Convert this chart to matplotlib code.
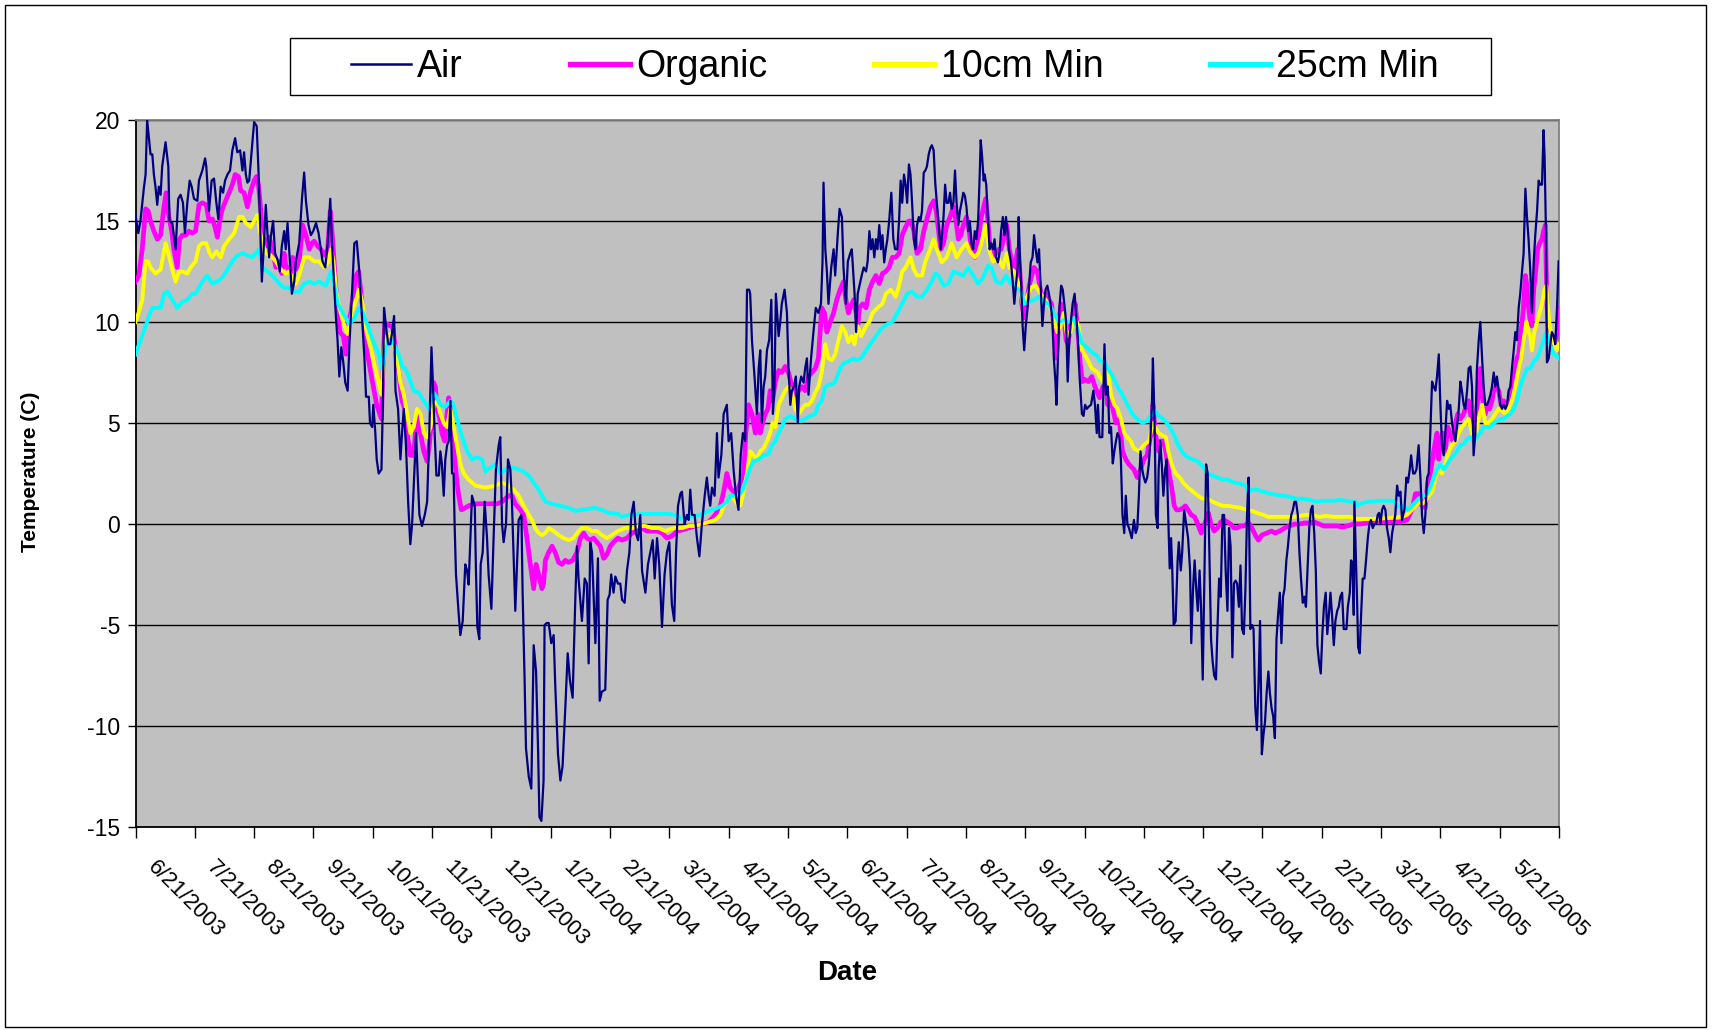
import matplotlib
matplotlib.use("Agg")
import matplotlib.pyplot as plt
from matplotlib.transforms import ScaledTranslation
from matplotlib.patches import Rectangle
from matplotlib.lines import Line2D

plt.rcParams['font.family'] = ['Liberation Sans', 'DejaVu Sans']
plt.rcParams['axes.unicode_minus'] = False

# ---------------- data (day index from 6/21/2003, temperature in C) ----------------
tick_labels = ["6/21/2003", "7/21/2003", "8/21/2003", "9/21/2003", "10/21/2003",
               "11/21/2003", "12/21/2003", "1/21/2004", "2/21/2004", "3/21/2004",
               "4/21/2004", "5/21/2004", "6/21/2004", "7/21/2004", "8/21/2004",
               "9/21/2004", "10/21/2004", "11/21/2004", "12/21/2004", "1/21/2005",
               "2/21/2005", "3/21/2005", "4/21/2005", "5/21/2005"]
series_names = ["Air", "Organic", "10cm Min", "25cm Min"]

air = [(0,15.3),(1.4,14.4),(2.5,15.0),(4.2,16.6),(5.1,17.3),(5.9,20.0),(6.8,19.1),(7.6,18.3),(8.5,18.3),
 (9.3,17.3),(10.1,16.7),(11,15.8),(11.8,16.7),(12.7,16.3),(13.5,17.7),(15.2,18.9),(16.6,17.7),(17.2,15.0),
 (18.6,14.9),(20.3,13.6),(21.6,16.1),(22.8,16.3),(24,15.9),(25,14.4),(26.2,15.9),(27.4,17.0),(28.4,16.7),
 (29.6,16.1),(31.3,16.0),(32.1,17.0),(33.8,17.5),(35.2,18.1),(35.8,17.7),(37.2,15.5),(38.5,17.0),(39.7,17.1),
 (40.9,15.9),(41.9,15.1),(43.1,16.7),(44.3,16.4),(45.3,17.0),(46.5,17.3),(47.8,17.5),(49,18.5),(50.4,19.1),
 (51.5,18.4),(52.9,18.5),(54.1,17.5),(54.9,18.4),(55.8,17.3),(56.6,16.9),(57.5,17.0),(58.8,18.5),(60,19.9),
 (61.3,19.7),(62.2,17.5),(62.9,15.2),(63.9,12.0),(65.1,14.1),(65.9,15.8),(66.8,14.3),(67.6,13.2),(68.4,14.2),
 (69.6,15.0),(70.6,13.4),(71.8,13.1),(73,12.5),(74,13.75),(75.2,14.5),(76,13.6),(76.9,14.9),(77.7,13.6),
 (79.1,11.4),(80.3,12.0),(81.1,13.0),(82.8,13.9),(84.2,16.1),(85.3,17.4),(86.2,16.0),(87.5,14.8),(88.7,14.3),
 (89.9,14.5),(91.3,14.9),(92.6,14.4),(93.3,13.9),(94.6,13.0),(96,12.7),(97.2,13.9),(98.5,16.1),(99.4,13.9),
 (100.6,11.6),(101.4,10.2),(102.2,9.1),(103.1,7.3),(104.1,8.75),(105.1,8.0),(106.1,7.0),(107.3,6.6),(108.2,8.9),
 (109.5,11.4),(110.7,13.9),(111.9,14.0),(113.2,12.5),(114.6,10.2),(115.8,8.2),(116.6,6.3),(118,6.3),(118.6,5.0),
 (119.7,4.8),(120.3,5.9),(121.3,4.5),(122,3.2),(123,2.5),
 (124.4,2.7),(125.1,5.9),(125.7,10.7),(126.7,9.8),(127.8,8.9),(128.9,8.9),(129.8,9.5),(130.8,10.3),(131.5,6.6),
 (132.8,5.7),(134,3.2),(134.8,4.5),(135.7,5.7),(136.8,3.9),(137.9,1.1),(139,-1.0),(139.9,0),(140.7,1.8),
 (141.9,4.5),(142.9,2.0),(143.6,0.45),(144.9,-0.1),(146.3,0.45),(147.5,1.1),(148.6,4.5),(149.7,8.75),(150.5,6.8),
 (151.3,4.5),(152.2,2.4),(153.4,2.4),(154.2,3.6),(155,2.95),(155.9,1.4),(156.7,3.2),(157.6,3.9),(158.4,4.1),
 (159.3,6.1),(160.1,2.5),(160.9,2.5),(161.4,0),(162.1,-2.5),(163.5,-4.5),(164.3,-5.5),(165.5,-4.8),(166.8,-2.0),
 (167.7,-2.3),(168.5,-3.0),(169.4,-0.7),(170.2,1.4),(171.6,0.9),(172.2,-2.3),(172.9,-5.1),(173.9,-5.7),(174.6,-2.0),
 (175.6,-1.4),(176.6,1.1),(177.8,-0.7),(178.6,-2.5),(180,-4.2),(181.2,-0.45),(182.3,2.7),(183.7,3.9),(184.5,4.3),
 (185.4,0),(186.2,-0.9),(187.4,0),(188.4,3.2),(189.6,2.7),(190.4,1.1),(192.1,-4.3),(193.8,0.2),(195.2,0.45),
 (195.8,-3.4),(196.8,-7.7),(197.5,-11.1),(198.9,-12.5),(200.2,-13.1),(201.4,-6.0),(202.6,-7.3),(203.6,-11.1),
 (204.3,-14.5),(205.3,-14.7),(206.4,-12.7),(206.9,-5.0),(208.1,-4.9),(209,-4.9),(210.3,-5.9),(211.5,-5.5),
 (212.3,-7.95),(213.7,-11.4),(214.9,-12.7),(216,-12.0),(217.4,-9.1),(218.6,-6.4),(219.7,-7.7),(221.1,-8.6),
 (222.4,-3.9),(223.3,-1.1),(224.1,-2.7),(225.8,-4.8),(227.2,-2.7),(228.3,-2.95),(229.2,-6.9),(230,-0.9),
 (230.9,-1.4),(232.6,-5.9),(233.9,-1.7),(234.8,-8.75),(235.9,-8.3),(237.6,-8.2),(238.8,-3.75),(239.8,-3.5),
 (240.6,-2.5),(241.8,-3.4),(242.7,-2.6),(244,-2.95),
 (245.2,-2.95),(246.1,-3.75),(247.4,-3.9),(248.6,-2.3),(249.8,-1.4),(250.8,0.45),(252,1.1),(253.1,-0.45),
 (254.2,-0.8),(255.3,0.45),(256.2,-2.3),(257.9,-3.4),(259.2,-2.0),(260.4,-1.4),(261.6,-0.8),(262.6,-2.7),
 (263.8,-0.7),(264.9,-2.0),(266.3,-5.1),(267.6,-2.5),(268.8,-1.4),(270,-0.9),(271.3,-4.0),(272.5,-4.8),
 (273.4,-1.4),(274.4,0.9),(275.6,1.5),(276.4,1.6),(277.7,0),(278.9,0.45),(279.8,0.2),(280.6,1.7),(281.5,0.45),
 (282.8,0.45),(284,-0.7),(285.2,-1.6),(286.5,0),(287.9,1.4),(289,2.3),(289.9,1.4),(290.7,0.9),(291.6,1.8),
 (292.9,1.4),(294.1,4.5),(294.9,2.3),(296.3,3.4),(297.5,5.45),(299.1,5.9),(300,4.1),(301.3,4.5),(302.5,2.7),
 (303.7,1.4),(305,0.7),(306.1,3.4),(307.2,4.5),(308.4,4.1),(309.3,11.6),(310.4,11.6),(310.9,11.4),(311.8,9.1),
 (313.1,7.3),(314.3,5.45),(315.2,7.7),(316,8.6),(316.8,5.0),(317.7,6.8),(318.5,7.3),(319.4,8.6),(320.5,9.1),
 (321.6,11.1),(322.4,5.45),(323.2,6.8),(323.9,11.4),(325.3,9.3),(326.1,10.0),(326.9,10.9),(328.3,11.6),
 (329.5,10.45),(330.3,7.7),(331.2,5.9),(332,6.6),(333,6.8),(334,7.3),(335,5.0),(335.7,6.8),(336.7,7.3),
 (337.9,7.0),(338.7,7.7),(339.6,8.2),(340.4,6.4),(341.7,8.2),(342.9,9.5),(344.1,10.7),(345.4,10.45),(346.7,10.9),
 (347.5,13.0),(348,16.9),(348.9,13.6),(349.7,12.5),(350.5,10.9),(351.9,12.7),(353.1,13.6),(353.9,12.3),
 (355.3,14.5),(356.1,15.6),(357.3,15.2),(358.1,12.7),(359.3,10.9),(360.3,13.0),(361.5,13.4),(362.3,13.6),
 (363.7,11.4),(364.5,9.5),(365.3,11.4),(366.2,11.8),(367.3,12.3),(368.3,12.7),(369.5,12.5),(370.3,13.0),
 (371.2,14.5),(372,13.6),(372.8,14.1),(373.7,13.2),(374.5,14.1),(375.3,13.6),(376.2,14.8),(377,13.6),(377.8,14.3),
 (378.7,12.95),(379.5,13.6),(380.3,14.1),(381.2,15.0),(382.3,16.4),(383.3,14.1),(384.2,13.6),(385.3,13.6),
 (386.2,15.0),(387,17.0),(387.8,15.9),(388.7,17.3),(389.5,16.8),(390.3,15.9),(391.2,17.8),(392,17.3),(392.8,15.9),
 (393.7,14.1),(394.5,13.6),(395.3,14.8),(396.2,15.2),(397,15.0),(397.8,15.5),(398.7,17.4),(399.5,17.5),
 (400.3,17.7),(401.2,18.3),(402,18.6),(402.8,18.75),(403.7,18.5),(404.5,16.9),(405.3,15.9),(406.2,14.8),
 (407.3,13.6),(408.7,15.2),(409.5,16.8),(410.3,15.9),(411.2,15.9),(412,16.4),(412.8,15.6),(413.7,15.9),
 (414.5,17.5),(415.3,15.9),(416.2,14.8),(417,15.5),(417.8,15.9),(418.7,16.4),(419.5,16.25),(420.3,15.7),
 (421.2,14.5),(422,15.0),(422.8,13.9),(423.7,13.6),(424.5,14.5),(425.3,14.1),(426.2,15.0),(427,17.3),(427.5,19.0),
 (428.2,18.2),(429,17.0),(429.5,17.3),(430.3,16.8),(431.2,15.0),(432,13.6),(432.8,13.9),(433.7,13.6),(434.5,14.1),
 (435.3,13.2),(436.2,12.95),(437,13.4),(437.8,14.5),(438.7,15.2),(439.5,14.3),(440.3,15.2),(441.2,14.3),(442,13.4),
 (442.8,12.95),(443.7,12.0),(444.5,10.9),(445.3,11.8),(446.2,12.7),(446.7,15.2),(447.3,13.4),(448,11.8),(448.7,9.8),
 (449.5,8.6),(450.3,9.8),(451.2,10.7),(452,11.8),(452.8,12.95),(453.7,13.2),(454.5,14.3),(455.3,13.6),(456.2,12.95),
 (457,13.6),(457.8,11.8),(458.7,9.8),(459.5,10.9),(460.3,11.6),(461.2,11.8),(462,11.4),(462.8,10.9),(463.7,10.2),
 (464.5,8.2),(465.3,7.05),(465.8,5.9),(466.7,8.6),(467.3,10.7),(468.2,11.8),(469,11.6),(470,10.7),(470.7,10.0),
 (471.5,7.05),(472.3,9.1),(473.3,10.2),(474,10.9),(475,11.4),(475.7,10.45),(476.7,9.1),(477.5,7.3),(478.7,5.45),
 (479.5,5.35),(480.3,5.9),(481.2,5.7),(482,5.8),(483.3,5.9),(484.5,6.6),(485.3,5.9),(486.2,4.5),
 (486.8,5.9),(487.6,4.3),(489,4.3),(490.1,8.9),(490.9,6.4),(491.8,6.8),(492.6,4.5),(493.4,4.8),(494.3,3.0),
 (495.1,3.6),(495.9,4.1),(496.7,4.5),(497.6,4.3),(498.4,3.2),(499.2,0.45),(500.1,-0.45),(500.9,1.4),(501.7,0),
 (502.5,-0.2),(503.9,-0.7),(505,0.2),(505.9,-0.45),(506.7,-0.2),(507.5,1.4),(508.3,3.6),(509.2,2.7),(510,2.3),
 (510.8,2.05),(511.7,2.3),(512.5,2.95),(513.3,4.1),(514.1,5.9),(514.6,8.2),(515.5,4.8),(516.1,0.45),(517,-0.2),
 (517.5,2.7),(518.3,4.1),(519.1,2.95),(519.9,1.4),(520.8,2.7),(521.6,3.2),(522.4,0.2),(523.1,-2.2),(523.8,-0.7),
 (524.4,-2.3),(525.1,-5.0),(526.1,-4.8),(527.1,-1.8),(527.7,-0.9),(528.7,-2.3),(529.4,-1.4),(530.4,0.7),(531.4,0),
 (532.4,-0.7),(533.4,-2.3),(534,-5.9),(534.9,-3.2),(535.7,-1.8),(536.5,-3.2),(537.3,-4.3),(538.2,-2.3),(539,-4.3),
 (539.8,-7.7),(540.7,-2.3),(541.5,2.95),(542.3,2.5),(543.1,-1.1),(544,-5.7),(544.8,-6.8),(545.6,-7.5),(546.5,-7.7),
 (547.3,-5.0),(548.1,-2.7),(548.9,-3.6),(549.8,0.45),(550.6,0.45),(551.4,-2.3),(552.3,-4.3),(553.1,-0.2),
 (553.9,-1.1),(554.8,-6.6),(555.6,-2.95),(556.4,-2.8),(557.2,-2.95),(558.1,-4.1),(558.9,-2.05),(559.7,-5.2),
 (560.6,-5.45),(561.4,-3.2),(562.2,0.45),(563,2.3),(563.9,-5.2),(564.7,-5.0),(565.5,-5.2),(566.4,-9.1),
 (567.2,-10.2),(568,-8.0),(568.8,-4.8),(569.7,-11.4),(570.5,-10.45),(571.3,-9.8),(572.1,-8.4),(573,-7.3),
 (573.8,-8.4),(574.6,-9.1),(575.4,-9.5),(576.3,-10.6),(577.1,-5.7),(577.9,-4.5),(578.8,-3.4),(579.6,-5.9),
 (580.4,-3.6),(581.2,-3.2),(582.1,-1.8),(582.9,-1.1),(583.7,-0.2),(584.6,0.45),(585.4,0.7),(586.2,1.1),(587,1.1),
 (587.9,0.45),(588.7,-1.4),(589.5,-2.7),(590.4,-3.9),(591.2,-3.6),(592,-4.1),(592.8,-2.3),(593.7,-0.2),
 (594.5,0.7),(595.3,0.9),(596.2,-0.45),(597,-2.3),(597.8,-6.0),(598.6,-6.8),(599.5,-7.4),(600.3,-5.45),
 (601.1,-4.1),(602,-3.4),(602.8,-5.45),(603.6,-4.5),
 (604.4,-3.4),(605.2,-4.5),(606.1,-6.0),(606.9,-4.8),(607.8,-4.3),(608.6,-4.1),(609.4,-3.6),(610.3,-3.4),
 (611.1,-5.2),(612.5,-5.2),(613.2,-4.1),(614.2,-3.4),(614.8,-1.8),(615.5,-1.9),(616.2,-4.5),(616.5,1.1),
 (617.2,-1.4),(617.9,-3.9),(618.4,-6.1),(619.2,-6.4),(619.9,-4.5),(620.7,-2.7),(621.6,-2.7),(622.4,-1.8),
 (623.3,-0.7),(624.1,0),(624.9,0.2),(625.8,-0.2),(626.6,0),(627.5,0),(628.3,0.45),(629,0.55),(629.7,0),
 (630.5,0.7),(631.3,0.9),(632.2,0.7),(633,-0.2),(633.9,-0.7),(634.7,-1.4),(635.6,-0.45),(636.4,0),(637.2,0.45),
 (638.1,1.9),(638.9,1.4),(639.8,1.6),(640.6,0.2),(641.8,0.7),(642.8,2.3),(643.6,2.05),(644.5,2.7),(645.2,3.4),
 (646.2,2.5),(647,2.5),(647.9,2.7),(649,3.9),(649.9,2.3),(650.7,0.45),(651.6,-0.45),(652.4,0.45),(653.3,2.3),
 (654.1,2.5),(654.9,4.5),(655.8,7.05),(656.6,6.8),(657.5,6.6),(658.3,7.3),(659.2,8.4),(660,5.9),(660.8,3.9),
 (661.7,3.4),(662.5,4.5),(663.4,6.1),(664.2,5.7),(665,5.9),(665.9,5.0),(666.7,4.5),(667.6,4.1),(668.4,4.8),
 (669.3,5.7),(670.1,7.05),(670.9,6.6),(671.8,5.9),(672.6,5.7),(673.5,6.6),(674.3,7.7),(675.2,7.8),(676,6.8),
 (676.8,3.4),(677.7,4.5),(678.5,7.7),(679.4,9.1),(680.2,10.0),(681.1,8.2),(681.9,6.8),(682.7,5.9),(683.6,5.9),
 (684.4,6.1),(685.3,6.4),(686.1,6.8),(687,7.5),(687.8,6.8),(688.6,7.3),(689.5,6.6),(690.3,5.9),(691.2,5.7),
 (692,5.9),(692.9,5.7),(693.7,5.9),(694.5,6.6),(695.4,6.8),(696.2,7.7),(697.1,8.6),(697.9,9.5),(698.7,9.1),
 (699.6,10.7),(700.4,11.4),(701.3,12.5),(702.1,13.4),(703,16.6),(703.8,15.2),(704.6,14.1),(705.5,12.5),
 (706.3,10.45),(707.2,12.95),(708,14.3),(708.9,15.5),(709.7,17.0),(710.5,16.8),(711.4,16.8),(712.2,19.5),
 (712.7,18.2),(713.4,14.5),(713.9,8.0),(714.8,8.2),(715.6,8.9),(716.4,9.5),(717.3,9.3),(718.1,8.9),(719,10.7),
 (719.8,13.0)]

organic = [(0,12.0),(1.7,12.3),(3.4,13.6),(5.1,15.6),(6.4,15.5),(7.6,15.0),(9.3,14.5),(11,14.1),(12.7,14.3),
 (14.4,15.7),(15.5,16.4),(16.9,15.2),(18.3,14.5),(19.4,13.6),(21.1,12.7),(22.3,14.1),(23.7,14.3),(25.4,14.3),
 (27,14.5),(28.7,14.4),(30.4,14.5),(32.1,15.8),(33.8,15.9),(35.8,15.8),(37.2,15.0),(38.9,15.1),(40.2,14.7),
 (41.4,14.2),(42.6,15.0),(43.9,15.6),(45.6,16.0),(47.3,16.4),(49,16.8),(50.4,17.3),(52.1,17.2),(53.2,16.5),
 (54.9,16.4),(56.6,15.7),(58.3,16.5),(60,17.0),(61.2,17.2),(62.2,16.8),(63.4,15.5),(64.2,14.3),(65.9,13.75),
 (67.6,14.2),(69.3,13.6),(71,12.7),(72.7,13.0),(74,12.4),(75.2,13.4),(76,12.8),(77.4,12.6),(78.6,12.4),
 (79.4,13.2),(81.1,12.6),(82.8,13.0),(84.5,14.8),(86.2,14.3),(87.9,13.6),(89.2,13.9),(90.4,14.0),(92.1,13.75),
 (93.8,13.6),(95.5,13.3),(97.2,13.6),(98.5,15.5),(99.7,14.1),(101.1,12.0),(102.2,10.5),(103.4,9.5),(105.1,9.3),
 (106.5,8.4),(107.8,10.0),(109,10.5),(110.2,11.4),(111.5,12.3),(112.9,12.5),(114.1,11.4),(115.8,9.8),(117,8.6),
 (118.6,7.7),(120.3,6.8),(122,5.9),
 (124.4,5.2),(125.1,7.7),(126.1,9.9),(127.2,9.9),(128.9,9.8),(130.1,9.8),(131.5,8.6),(133.1,7.5),(134.8,6.1),
 (136.2,5.7),(137.4,4.5),(139,3.4),(140.7,3.4),(141.6,4.5),(142.9,5.45),(144.1,4.5),(145.8,3.6),(147.5,3.1),
 (148.6,3.9),(150,5.45),(150.8,7.0),(151.7,6.8),(152.5,5.7),(153.7,5.3),(155,4.5),(156.4,4.1),(157.6,5.45),
 (158.4,6.25),(159.3,5.9),(160.1,4.5),(161.4,3.2),(162.6,2.05),(163.5,1.4),(164.8,0.7),(166.8,0.8),(168.5,0.9),
 (171.9,1.0),(177,1.0),(182.9,1.0),(185.4,1.1),(188.7,1.4),(190.4,1.4),(192.1,1.0),(194.6,0.7),(196.3,0.45),
 (198,-0.7),(199.7,-2.0),(201.4,-3.2),(202.6,-2.0),(203.9,-2.5),(205.6,-3.2),(206.4,-2.95),(207.3,-1.8),
 (209,-1.4),(210.7,-1.1),(212.3,-1.4),(214,-1.9),(215.7,-2.0),(217.4,-1.8),(219.1,-1.9),(221.1,-1.8),
 (223.3,-1.4),(225,-0.7),(226.7,-0.45),(228.3,-0.7),(230,-0.8),(231.7,-0.7),(233.4,-0.9),(235.1,-1.1),
 (236.8,-1.7),(238.5,-1.5),(240.1,-1.1),(241.8,-0.9),(244,-0.7),
 (246.1,-0.8),(248.6,-0.7),(251.1,-0.45),(253.6,-0.35),(256.2,-0.2),(258.7,-0.35),(261.2,-0.35),(263.8,-0.35),
 (266.3,-0.45),(268.8,-0.7),(271.3,-0.6),(273.9,-0.35),(276.4,-0.3),(279.8,-0.2),(283.1,-0.1),(286.5,0),
 (289.9,0.1),(293.2,0.45),(295.8,0.9),(297.5,1.6),(299.1,2.5),(300.8,1.8),(302.5,1.6),(304.2,1.6),(305.9,2.05),
 (307.6,2.5),(308.7,4.5),(310.1,5.9),(311.8,5.45),(313.5,4.5),(314.8,5.45),(316,4.5),(317.2,5.0),(318.5,5.45),
 (319.9,5.7),(321,6.6),(322.2,6.1),(323.6,7.05),(325.3,7.6),(326.9,7.5),(328.6,7.8),(330.3,7.5),(332,6.8),
 (333.7,6.4),(335.4,6.6),(337.1,6.8),(338.7,6.6),(340.4,7.3),(342.1,7.5),(343.8,7.7),(345.4,8.2),(347.1,10.7),
 (348.5,10.45),(349.7,9.5),(351.4,10.0),(353.1,10.45),(354.7,11.1),(356.4,11.6),(358.1,12.0),(359.3,11.1),
 (360.6,10.45),(362.3,10.9),
 (363.3,11.1),(364.5,10.45),(365.3,9.8),(366.2,10.7),(367.8,10.9),(369.5,10.7),(371.2,11.6),(372.8,12.0),
 (374.5,12.3),(376.2,11.9),(377.8,12.4),(379.5,12.5),(381.2,12.7),(382.8,13.2),(384.5,13.2),(386.2,13.4),
 (387.8,14.3),(389.5,14.7),(391.2,15.0),(392.3,15.0),(393.7,14.5),(395.3,13.4),(397,13.6),(398.7,14.5),
 (400.3,15.1),(402,15.7),(403.7,16.0),(405,15.5),(406.2,14.5),(407.3,13.6),(408.7,13.9),(410.3,14.8),(412,15.2),
 (413.7,15.7),(415,15.0),(416.2,14.1),(417.5,14.3),(418.7,14.8),(420.3,15.2),(421.7,14.5),(422.8,13.6),
 (424.5,13.2),(426.2,14.1),(427.8,15.2),(429,15.7),(430,16.1),(431.2,15.0),(432,13.9),(433.7,13.6),(435.3,13.2),
 (436.7,13.6),(437.8,13.6),(439.5,14.3),(440.7,14.8),(442,13.6),(443.3,12.95),(444.5,12.5),(446.2,13.6),
 (447.3,12.5),(448.3,10.9),(449.5,10.2),(450.7,10.9),(452,11.8),(453.3,12.3),(454.5,12.7),(456.2,12.5),
 (457.3,11.8),(458.7,11.1),(460.3,11.4),(462,11.1),(463.3,10.9),(464.5,9.8),(465.7,8.2),(467,10.0),(468.2,10.9),
 (469.5,10.45),(470.7,9.1),(471.7,8.9),(472.8,9.8),(474,10.2),(475.3,10.9),(476.7,9.5),(477.8,7.95),(479,7.05),
 (480.3,7.15),(482,7.05),(483.7,7.3),(485.3,6.8),
 (487.6,6.25),(489.3,6.8),(490.9,6.8),(491.8,5.9),(492.6,6.4),(494.3,5.7),(495.9,5.0),(497.6,5.2),(499.2,3.6),
 (500.9,3.2),(502.5,2.95),(505,2.7),(506.7,2.3),(508.3,2.7),(510,3.2),(511.7,3.4),(512.8,4.1),(513.8,4.5),
 (514.6,5.9),(515.8,4.5),(517.5,3.6),(518.3,4.1),(519.9,4.1),(521.1,3.6),(522.4,2.7),(524.1,1.8),(525.4,0.9),
 (526.6,0.7),(528.2,0.7),(529.9,0.8),(531,0.9),(532.4,0.7),(534,0.45),(535.7,0.35),(537.3,0),(539,-0.45),
 (540.3,-0.1),(541.5,0.2),(542.6,0.55),(544,0),(545.6,-0.35),(547.3,-0.2),(548.9,0.1),(550.6,0.2),(552.3,0.1),
 (553.9,0),(555.6,-0.2),(557.2,-0.2),(558.9,-0.1),(560.6,-0.1),(562.2,0),(563.5,0),(564.7,-0.2),(566.4,-0.55),
 (568,-0.8),(569.7,-0.55),(572.1,-0.45),(574.6,-0.35),(576.3,-0.45),(578.8,-0.35),(581.2,-0.2),(583.7,-0.1),
 (586.2,0),(588.7,0),(591.2,0.05),(593.7,0.05),(596.2,0.1),(598.6,0),(601.1,-0.1),(603.6,-0.1),(606.6,-0.1),
 (607.8,-0.1),(610.3,-0.15),(612.8,-0.1),(616.2,0),(619.6,0),(622.9,0.05),(626.3,0.1),(629.7,0.1),(633,0.1),
 (636.4,0.1),(639.8,0.1),(643.1,0.2),(645.7,0.7),(647.4,1.5),(649,1.5),(650.7,0.9),(652.4,0.8),(653.6,2.05),
 (654.9,2.5),(656.6,3.6),(658.3,4.5),(659.2,3.2),(660,4.1),(661.3,4.5),(662.5,3.6),(663.7,4.8),(665,4.5),
 (666.4,4.1),(667.6,5.0),(668.8,5.45),(670.1,5.2),(671.8,5.45),(673.1,5.9),(674.3,6.1),(675.2,5.45),(676,5.0),
 (676.8,4.5),(678.2,5.45),(679.4,6.8),(680.2,7.7),(681.1,6.4),(681.9,5.7),(682.7,5.45),(683.6,5.9),(684.9,5.7),
 (686.1,6.1),(687,6.6),(688.1,6.8),(689.5,6.6),(690.7,5.9),(692,6.1),(693.4,5.9),(694.5,5.9),(695.4,6.4),
 (696.7,7.3),(697.9,7.7),(698.7,8.2),(699.6,8.4),(700.8,9.5),(701.8,10.45),(703,12.3),(703.8,11.8),(704.6,10.7),
 (705.5,10.0),(706.3,9.8),(707.2,11.6),(708,12.3),(709.2,13.6),(710.2,13.9),(711.4,14.1),(712.2,14.5),
 (713.1,14.8),(713.9,10.9),(714.8,9.3),(715.6,9.1),(717,8.9),(718.1,9.1),(719.3,9.5),(720,10.7)]

min10cm = [(0,10.0),(1.7,10.5),(3.4,11.1),(5.1,13.0),(6.4,13.0),(7.6,12.7),(10.1,12.4),(12.7,12.6),(15.2,13.9),
 (16.6,13.4),(18.3,12.7),(20.3,12.0),(22,12.5),(23.7,12.5),(26.2,12.4),(27.9,12.7),(30.4,13.0),(32.1,13.75),
 (33.8,13.9),(35.8,13.9),(37.5,13.4),(38.9,13.2),(40.9,13.5),(43.1,13.2),(44.8,13.75),(47.3,14.1),(49.9,14.4),
 (52.4,15.2),(54.1,15.2),(55.8,14.9),(58.3,14.7),(60,15.0),(61.7,15.3),(62.9,14.5),(64.2,13.9),(65.9,13.4),
 (68.4,13.3),(71,13.0),(73.5,12.6),(76,12.4),(77.7,12.5),(79.4,12.2),(81.1,11.9),(82.8,12.3),(85.3,13.2),
 (87.9,13.2),(90.4,13.0),(92.9,13.0),(95.5,12.7),(97.7,13.0),(98.9,13.6),(100.1,13.0),(101.4,11.6),(103.1,10.7),
 (105.1,10.0),(107.3,9.4),(109.5,10.5),(111.5,11.1),(113.2,11.6),(114.9,10.9),(116.9,9.5),(119.2,8.6),(121.3,7.7),
 (123,7.0),
 (124.4,6.4),(125.6,8.6),(127.2,9.3),(128.9,9.4),(130.6,8.9),(132.3,8.2),(134,7.0),(135.7,6.4),(137.4,5.45),
 (139,4.5),(140.7,4.8),(142.4,5.7),(144.1,5.45),(145.8,4.5),(147.5,4.3),(149.2,4.8),(150.8,5.9),(152.5,6.1),
 (154.2,5.45),(155.9,5.0),(157.6,4.8),(159.3,5.7),(160.9,4.8),(162.6,3.9),(164.3,3.0),(166,2.5),(168.5,2.2),
 (171.9,1.9),(177,1.8),(182,1.9),(185.4,2.05),(188.7,1.9),(191.3,1.7),(193.8,1.4),(196.3,0.9),(198.9,0.45),
 (200.5,0.2),(202.2,-0.2),(203.9,-0.45),(205.6,-0.55),(207.3,-0.45),(209,-0.2),(211.5,-0.35),(214,-0.55),
 (216.6,-0.7),(219.1,-0.8),(221.6,-0.7),(224.1,-0.35),(225.8,-0.2),(228.3,-0.2),(230.9,-0.35),(233.4,-0.35),
 (235.9,-0.55),(238.5,-0.7),(241,-0.55),(244,-0.35),
 (247.8,-0.2),(251.1,-0.2),(254.5,-0.1),(257.9,-0.1),(261.2,-0.2),(264.6,-0.2),(268,-0.35),(270.5,-0.25),
 (273,-0.2),(276.4,-0.2),(279.8,-0.1),(283.1,-0.1),(286.5,0),(289.9,0.1),(293.2,0.2),(295.8,0.45),(297.5,0.9),
 (299.1,1.1),(300.8,1.4),(302.5,1.25),(304.2,1.0),(305.9,0.9),(307.6,1.6),(309.3,2.5),(311,3.6),(312.6,3.4),
 (314.3,3.2),(316,3.6),(317.7,3.75),(319.4,4.1),(321,4.5),(322.2,5.0),(323.6,4.8),(325.3,5.9),(326.9,6.25),
 (328.6,6.6),(330.3,6.8),(332,6.5),(333.7,5.7),(335.4,5.45),(337.1,5.7),(338.7,5.9),(340.4,5.9),(342.1,6.1),
 (343.8,6.5),(345.4,6.8),(347.1,7.5),(348.9,8.9),(350.5,8.2),(352.2,8.1),(353.9,8.4),(355.6,9.1),(357.3,9.8),
 (359,9.5),(360.6,9.0),(362.3,9.3),
 (363.7,8.9),(365.3,9.8),(367,9.3),(369.5,9.8),(371.2,10.0),(372.8,10.45),(375.3,10.7),(377.8,10.9),(379.5,11.4),
 (382,11.6),(384.5,11.25),(386.2,11.8),(387.8,12.5),(389.5,12.7),(392,13.2),(393.7,12.6),(395.3,12.3),
 (397.8,12.3),(399.5,13.0),(402,13.6),(403.7,14.1),(405.3,13.6),(407.8,12.95),(410.3,13.2),(412.8,13.9),
 (415.3,13.2),(417.8,13.6),(420.3,13.9),(422,13.5),(424.5,13.2),(426.2,13.4),(427.8,13.9),(430,14.8),
 (431.7,13.6),(433.7,13.0),(436.2,13.2),(438.7,12.7),(440.7,13.4),(442,12.7),(444.5,12.5),(447,11.8),
 (448.7,10.9),(450.3,11.1),(452.8,11.7),(455.3,11.8),(457.8,11.4),(460.3,11.1),(462.8,10.7),(464.5,10.2),
 (466.2,9.5),(467.8,9.8),(469.5,10.45),(471.2,9.3),(472.8,9.5),(475.3,10.2),(477,9.8),(478.7,8.6),(481.2,8.2),
 (483.7,7.7),(486.7,7.5),
 (487.6,7.3),(489.3,7.05),(490.9,7.7),(492.3,7.3),(493.4,6.4),(495.1,5.9),(496.7,5.7),(498.4,5.2),(500.1,4.5),
 (501.7,4.3),(503.4,4.1),(505,3.75),(507.5,3.6),(510,3.9),(512.5,4.1),(514.6,5.0),(515.8,4.8),(517.5,4.5),
 (519.1,4.4),(521.1,4.3),(522.4,3.6),(524.1,2.95),(526.1,2.5),(528.2,2.3),(529.9,2.05),(532.4,1.8),(534.9,1.6),
 (537.3,1.4),(539.8,1.25),(542.3,1.25),(544.8,1.1),(547.3,1.0),(549.8,0.9),(552.3,0.9),(555.6,0.85),(558.9,0.8),
 (562.2,0.7),(564.7,0.65),(567.2,0.55),(570.5,0.45),(573,0.35),(578.8,0.35),(585.4,0.35),(588.7,0.4),(592,0.45),
 (595.3,0.45),(598.6,0.35),(601.9,0.4),(606.6,0.35),
 (609.4,0.35),(614.5,0.35),(617.9,0.25),(626.3,0.25),(634.7,0.3),(639.8,0.35),(643.1,0.45),(645.7,0.7),
 (647.4,0.9),(649,1.1),(650.7,1.0),(652.4,1.1),(654.1,1.4),(655.8,1.6),(657.5,2.3),(659.2,2.7),(660.8,2.5),
 (662.5,2.95),(664.2,3.6),(665.9,3.9),(667.6,4.1),(669.3,4.5),(670.9,4.8),(672.6,5.0),(674.3,5.2),(676,4.5),
 (677.2,4.1),(678.5,4.8),(679.9,5.45),(681.1,5.9),(682.7,5.0),(684.4,5.0),(686.1,5.2),(687.8,5.45),(689.5,5.7),
 (691.2,5.6),(692.9,5.45),(694.5,5.7),(696.2,6.1),(697.9,6.8),(699.6,7.7),(700.8,8.2),(702.1,9.1),(703.5,10.0),
 (704.6,9.5),(705.5,9.3),(706.3,8.6),(707.5,9.5),(708.9,10.0),(710.2,10.45),(711.4,10.9),(712.6,11.6),
 (713.6,11.8),(714.3,10.9),(715.3,9.8),(716.5,9.1),(717.6,8.9),(719,8.6),(720,8.9)]

min25cm = [(0,8.4),(2.5,9.1),(5.1,9.8),(6.8,10.3),(8.5,10.7),(11,10.7),(12.7,10.7),(14.4,11.4),(16.1,11.5),
 (18.6,11.1),(21.1,10.7),(23.7,11.0),(26.2,11.1),(28.7,11.4),(30.4,11.4),(32.1,11.7),(33.8,12.0),(36.3,12.3),
 (38.9,11.9),(41.4,12.0),(43.9,12.2),(46.5,12.6),(49,13.0),(51.5,13.3),(54.1,13.4),(56.6,13.3),(59.2,13.2),
 (60.8,13.4),(62.5,13.6),(64.2,12.7),(66.8,12.5),(69.3,12.3),(72.7,11.9),(75.2,11.7),(77.7,11.7),(80.3,11.5),
 (82.8,11.5),(85.3,11.9),(87.9,12.0),(90.4,11.9),(92.9,12.0),(96.3,11.8),(98.9,12.5),(100.6,11.8),(102.3,10.9),
 (104.8,10.45),(108.2,9.9),(110.7,10.2),(113.2,10.7),(114.9,10.5),(117.5,9.8),(120,9.1),(123,8.4),
 (124.7,7.7),(126.4,8.6),(128.1,9.1),(129.8,9.1),(131.5,8.75),(133.1,8.4),(134.8,7.8),(136.5,7.7),(138.2,7.3),
 (140.7,6.6),(143.3,6.5),(145.8,6.1),(148.3,5.7),(150.8,6.5),(152.5,6.25),(154.2,5.9),(156.7,5.8),(159.3,6.1),
 (160.9,5.9),(162.6,5.2),(165.2,4.3),(167.7,3.6),(170.2,3.2),(172.7,3.3),(175.3,3.2),(177,2.6),(179.5,2.8),
 (182,2.95),(184.5,2.5),(187.1,2.7),(190.4,2.8),(193.8,2.7),(196.3,2.6),(198.9,2.4),(201.4,2.05),(203.9,1.7),
 (207.3,1.1),(210.7,1.0),(214.9,0.9),(219.1,0.8),(222.4,0.65),(225.8,0.7),(229.2,0.75),(232.6,0.8),(235.9,0.7),
 (239.3,0.55),(244,0.5),
 (246.1,0.35),(249.4,0.45),(256.2,0.5),(262.9,0.5),(269.7,0.5),(273,0.45),(274.7,0.35),(276.4,0.25),(279.8,0.35),
 (283.1,0.4),(286.5,0.5),(289.9,0.65),(293.2,0.75),(296.6,0.9),(299.1,1.1),(300.8,1.4),(303.4,1.4),(305.9,1.5),
 (307.6,1.8),(309.3,2.3),(311,2.8),(312.6,3.1),(315.2,3.2),(317.7,3.4),(320.2,3.45),(321.9,3.9),(323.6,4.1),
 (325.3,4.5),(326.9,4.8),(328.6,5.2),(331.2,5.35),(333.7,5.2),(336.2,5.1),(338.7,5.2),(341.3,5.35),(343.8,5.45),
 (345.4,5.9),(347.1,6.1),(348.9,6.8),(350.5,6.9),(352.2,6.9),(353.9,7.05),(356.4,7.7),(358.1,7.95),(360.6,8.05),
 (363.2,8.2),
 (364.5,8.1),(367,8.2),(369.5,8.6),(372,8.95),(374.5,9.3),(377,9.65),(380.3,9.9),(382.8,10.0),(385.3,10.45),
 (387.8,10.9),(390.3,11.4),(392.8,11.5),(395.3,11.25),(397.8,11.25),(400.3,11.6),(402.8,12.0),(404.5,12.4),
 (406.2,12.3),(408.7,11.8),(411.2,11.9),(413.7,12.5),(416.2,12.4),(418.7,12.3),(421.2,12.7),(423.7,12.3),
 (426.2,11.9),(428.7,12.2),(431.2,12.8),(432.8,12.7),(435.3,12.0),(437.8,11.9),(440.3,12.3),(442.8,11.9),
 (445.3,11.7),(447.8,11.5),(449.5,10.9),(452,11.0),(454.5,11.1),(457,11.25),(459.5,11.0),(462,10.9),(464.5,10.45),
 (467,10.0),(469.5,10.1),(472,10.0),(474.5,10.2),(477,9.5),(478.7,8.95),(481.2,8.75),(483.7,8.5),(486.7,8.3),
 (487.6,8.1),(490.1,8.0),(491.8,7.7),(494.3,7.3),(496.7,6.8),(499.2,6.4),(501.7,5.9),(504.2,5.45),(506.7,5.2),
 (509.2,5.0),(511.7,5.1),(514.1,5.45),(515.8,5.6),(517.5,5.35),(519.9,5.2),(522.4,4.9),(524.9,4.5),(527.4,3.9),
 (529.9,3.5),(532.4,3.3),(534.9,3.2),(537.3,3.1),(539.8,2.85),(542.3,2.5),(544.8,2.4),(547.3,2.3),(549.8,2.2),
 (552.3,2.2),(555.6,2.05),(558.9,2.0),(561.4,1.9),(563,1.6),(564.7,1.7),(567.2,1.7),(570.5,1.6),(573.8,1.5),
 (577.1,1.45),(580.4,1.4),(583.7,1.35),(587,1.25),(590.4,1.25),(593.7,1.2),(597,1.1),(600.3,1.15),(603.6,1.15),
 (606.6,1.15),
 (609.4,1.2),(614.5,1.1),(617,1.1),(617.9,0.9),(619.6,1.0),(622.9,1.1),(629.7,1.15),(636.4,1.15),(638.1,0.9),
 (639.8,0.85),(641.5,0.9),(643.1,0.7),(644.8,0.8),(646.5,1.0),(649,1.25),(651.6,1.4),(653.3,1.5),(654.9,1.8),
 (656.6,2.3),(658.3,2.7),(660,2.95),(661.7,2.7),(663.4,2.95),(665,3.2),(666.7,3.4),(668.4,3.6),(670.1,3.9),
 (671.8,3.95),(673.5,4.2),(675.2,4.3),(676.8,4.1),(678.5,4.3),(680.2,4.5),(681.9,4.8),(683.6,4.8),(685.3,4.8),
 (687,5.0),(688.6,5.1),(690.3,5.2),(692,5.2),(693.7,5.35),(695.4,5.45),(697.1,5.7),(698.7,6.1),(700.4,6.8),
 (702.1,7.3),(703.8,7.7),(705.5,7.7),(707.2,8.05),(708.9,8.2),(710.5,8.6),(712.2,9.1),(713.6,9.5),(714.8,9.1),
 (715.9,8.75),(717.3,8.4),(719,8.3),(720,8.2)]

# ---------------- figure ----------------
W, H = 1713, 1030
fig = plt.figure(figsize=(W / 100, H / 100), dpi=100)
fig.patch.set_facecolor('white')

L, R, T, B = 135.5, 1559, 120, 827
ax = fig.add_axes([L / W, 1 - B / H, (R - L) / W, (B - T) / H])
ax.set_facecolor('#C0C0C0')
ax.set_xlim(0, 720)
ax.set_ylim(-15, 20)
ax.set_yticks(range(-15, 21, 5))
ax.grid(axis='y', color='#000000', lw=1.0)
ax.set_axisbelow(True)

def split(pairs):
    return [p[0] for p in pairs], [p[1] for p in pairs]

colors = ['#000080', '#FF00FF', '#FFFF00', '#00FFFF']
widths = [1.6, 3.4, 2.8, 2.8]
zorders = [6, 3, 4, 5]
handles = []
for data, name, c, lw, z in zip([air, organic, min10cm, min25cm], series_names, colors, widths, zorders):
    d, t = split(data)
    ax.plot(d, t, color=c, lw=lw, zorder=z, solid_joinstyle='round')
    handles.append(Line2D([], [], color=c, lw=(1.8 if name == 'Air' else 3.8)))

for s in ['left', 'bottom']:
    ax.spines[s].set_color('black')
    ax.spines[s].set_linewidth(1.3)
for s in ['top', 'right']:
    ax.spines[s].set_color('#808080')
    ax.spines[s].set_linewidth(1.3)

ax.set_xticks(range(0, 721, 30))
ax.set_xticklabels(tick_labels + [''], rotation=-45, ha='left', va='center',
                   rotation_mode='anchor', fontsize=16)
ax.tick_params(axis='x', direction='out', length=8, width=1, pad=19)
ax.tick_params(axis='y', direction='out', length=6, width=1, pad=5, labelsize=16.5)
off = ScaledTranslation(0.15, 0, fig.dpi_scale_trans)
for lbl in ax.get_xticklabels():
    lbl.set_transform(lbl.get_transform() + off)

fig.text(31 / W, 1 - 472 / H, 'Temperature (C)', rotation=90, ha='center', va='center',
         fontsize=15, fontweight='bold')
fig.text(847 / W, 1 - 980 / H, 'Date', ha='center', va='baseline', fontsize=20, fontweight='bold')

# legend: frame drawn separately, entries centred in it
fig.add_artist(Rectangle((289.5 / W, 1 - 95 / H), (1491 - 289.5) / W, (95 - 38) / H,
                         transform=fig.transFigure, fill=True, fc='white', ec='black', lw=1.0, zorder=1))
leg = fig.legend(handles, series_names, loc='center', bbox_to_anchor=(895 / W, 1 - 67 / H),
                 ncol=4, fontsize=27, frameon=False, handlelength=1.6, handletextpad=0.17,
                 columnspacing=2.85, borderpad=0.1)
leg.set_zorder(2)

fig.add_artist(Rectangle((5 / W, 3 / H), (1706 - 5) / W, (1025 - 3) / H, transform=fig.transFigure,
                         fill=False, ec='black', lw=1.0))

fig.savefig('out.png', dpi=100)
